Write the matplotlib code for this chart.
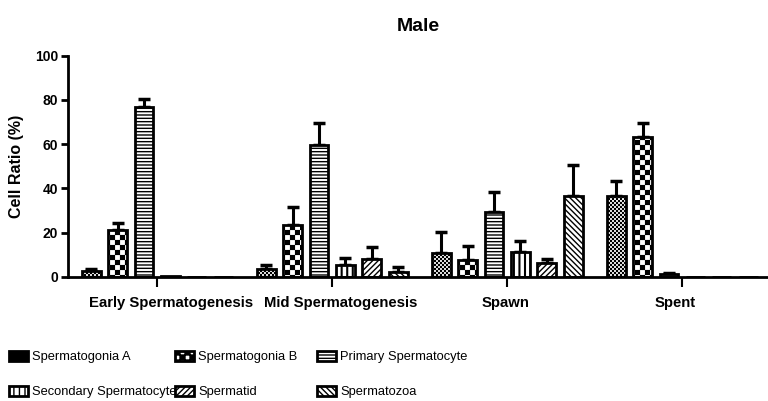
import matplotlib
matplotlib.use("Agg")
import matplotlib.pyplot as plt
import matplotlib.hatch as mhatch
from matplotlib.path import Path
from matplotlib.patches import Patch
import numpy as np

plt.rcParams['font.family'] = ['Liberation Sans', 'DejaVu Sans']


class Checker(mhatch.HatchPatternBase):
    """Filled checkerboard hatch, triggered by 'O' characters."""
    def __init__(self, hatch, density):
        self.n = int(hatch.count('O') * 10)
        if self.n % 2:
            self.n += 1
        self.cells = [(i, j) for i in range(self.n) for j in range(self.n)
                      if (i + j) % 2 == 0] if self.n else []
        self.num_vertices = 5 * len(self.cells)

    def set_vertices_and_codes(self, vertices, codes):
        s = 1.0 / self.n
        k = 0
        for (i, j) in self.cells:
            x0, y0 = i * s, j * s
            vertices[k:k + 5] = [(x0, y0), (x0 + s, y0), (x0 + s, y0 + s),
                                 (x0, y0 + s), (x0, y0)]
            codes[k:k + 5] = [Path.MOVETO, Path.LINETO, Path.LINETO,
                              Path.LINETO, Path.CLOSEPOLY]
            k += 5


mhatch._hatch_types = [t for t in mhatch._hatch_types
                       if t is not mhatch.LargeCircles] + [Checker]

stages = ["Early Spermatogenesis", "Mid Spermatogenesis", "Spawn", "Spent"]
series = ["Spermatogonia A", "Spermatogonia B", "Primary Spermatocyte",
          "Secondary Spermatocyte", "Spermatid", "Spermatozoa"]

sg_a = [2.7, 3.3, 10.6, 36.3]
sg_b = [21.3, 23.4, 7.6, 63.0]
primary = [76.6, 59.7, 29.2, 1.2]
secondary = [0.2, 5.3, 11.3, 0.0]
spermatid = [0.0, 8.0, 6.4, 0.0]
spermatozoa = [0.0, 2.3, 36.7, 0.0]

sg_a_err = [1.0, 2.0, 9.8, 7.1]
sg_b_err = [3.0, 8.3, 6.3, 6.6]
primary_err = [3.8, 9.9, 9.3, 0.5]
secondary_err = [0.0, 3.0, 4.9, 0.0]
spermatid_err = [0.0, 5.3, 1.6, 0.0]
spermatozoa_err = [0.0, 2.0, 14.0, 0.0]

values = [sg_a, sg_b, primary, secondary, spermatid, spermatozoa]
errors = [sg_a_err, sg_b_err, primary_err, secondary_err, spermatid_err, spermatozoa_err]
hatches = ['OOOOO', 'OO', '-----', '|||', '//////', '\\\\\\\\\\\\']
hatch_lw = [0.1, 0.1, 1.0, 1.5, 1.0, 1.0]

fig = plt.figure(figsize=(7.68, 4.01), dpi=100)
ax = fig.add_axes([68/768, 1-276.7/401, 1-68/768, (276.7-55.7)/401])

x = np.arange(len(stages))
step = 0.151
width = 0.108
handles = []
for i, (vals, errs) in enumerate(zip(values, errors)):
    pos = x + (i - 2.5) * step
    with plt.rc_context({'hatch.linewidth': hatch_lw[i]}):
        bars = ax.bar(pos, vals, width=width, color='white', edgecolor='black',
                      linewidth=2.0, hatch=hatches[i], zorder=2)
        for b in bars:
            if hasattr(b, 'set_hatch_linewidth'):
                b.set_hatch_linewidth(hatch_lw[i])
        h = Patch(facecolor='white', edgecolor='black', linewidth=2.0,
                  hatch=hatches[i], label=series[i])
        if hasattr(h, 'set_hatch_linewidth'):
            h.set_hatch_linewidth(hatch_lw[i])
    handles.append(h)
    errs_arr = np.array(errs)
    mask = errs_arr > 0
    ax.errorbar(pos[mask], np.array(vals)[mask],
                yerr=[np.zeros(mask.sum()), errs_arr[mask]],
                fmt='none', ecolor='black', elinewidth=2.2, capsize=4,
                capthick=2.5, zorder=1)

ax.set_xlim(-0.51, 3.49)
ax.set_ylim(0, 100)
ax.set_yticks([0, 20, 40, 60, 80, 100])
ax.set_xticks(x)
ax.set_xticklabels([])
label_shift = [0.08, 0.05, -0.01, -0.04]
ax.set_xticks(x + np.array(label_shift), minor=True)
ax.set_xticklabels(stages, minor=True, fontsize=10.7, fontweight='bold')
ax.tick_params(axis='x', which='minor', length=0, pad=14)
for lbl in ax.get_yticklabels():
    lbl.set_fontweight('bold')
    lbl.set_fontsize(10)
ax.tick_params(axis='y', length=5, width=2, pad=2)
ax.tick_params(axis='x', which='major', length=7, width=1.5)
for s in ['top', 'right']:
    ax.spines[s].set_visible(False)
ax.spines['left'].set_linewidth(2)
ax.spines['bottom'].set_linewidth(2)
ax.set_ylabel("Cell Ratio (%)", fontsize=11.5, fontweight='bold', labelpad=8)
ax.set_title("Male", fontsize=14, fontweight='bold', pad=18)

col_x = [9, 175, 317]
for c in range(3):
    fig.legend(handles=[handles[c], handles[c+3]], loc='upper left',
               bbox_to_anchor=(col_x[c]/768, 1-351/401), frameon=False,
               prop={'family': ['Liberation Sans'], 'size': 9.3},
               handlelength=1.5, handleheight=0.8,
               handletextpad=0.3, labelspacing=1.75, borderpad=0, borderaxespad=0)

fig.savefig("out.png", dpi=100)
